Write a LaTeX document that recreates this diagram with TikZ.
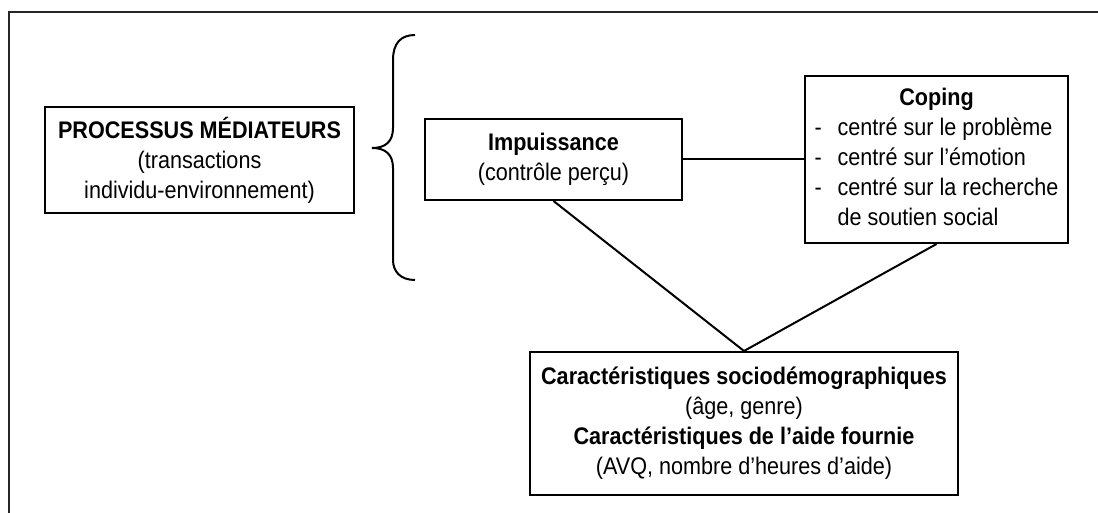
\documentclass[tikz,border=0pt]{standalone}
\usepackage{fontspec}
\setmainfont{Liberation Sans}[FakeStretch=0.9]
\usepackage{tikz}

\begin{document}
\begin{tikzpicture}[
    x=0.5pt, y=-0.5pt,
    font=\fontsize{12}{15}\selectfont,
    box/.style={draw, line width=1pt, inner sep=2pt, align=center},
    link/.style={line width=1pt}
]
\def\ymid{159.5}   % row of the three upper boxes
\useasboundingbox (0,0) rectangle (1098,513);

% outer frame (open at bottom and right)
\draw[line width=1.1pt, black!85] (9,513) -- (9,12) -- (1098,12);

% left box
\node[box, minimum width=154.5pt, minimum height=53pt] (med) at (199.5,160)
    {\textbf{PROCESSUS MÉDIATEURS}\\(transactions\\individu-environnement)};

% brace
\draw[line width=1pt]
    (415,35) .. controls (401,35) and (393,43) .. (393,60) -- (393,128)
    .. controls (393,142) and (385,148) .. (372,148)
    .. controls (385,148) and (393,154) .. (393,168) -- (393,260)
    .. controls (393,272) and (401,280) .. (415,280);

% upper boxes
\node[box, minimum width=128.5pt, minimum height=40.5pt] (imp) at (553.5,\ymid)
    {\textbf{Impuissance}\\(contrôle perçu)};
\node[box, minimum width=131.5pt, minimum height=83.5pt] (cop) at (936.5,\ymid)
    {\begin{tabular}{@{}l@{}}
     \multicolumn{1}{@{}c@{}}{\textbf{Coping}}\\
     \makebox[11.5pt][l]{-}centré sur le problème\\
     \makebox[11.5pt][l]{-}centré sur l’émotion\\
     \makebox[11.5pt][l]{-}centré sur la recherche\\
     \hspace*{11.5pt}de soutien social
     \end{tabular}};

% lower box
\node[box, minimum width=214pt, minimum height=71.5pt] (car) at (744,423.5)
    {\textbf{Caractéristiques sociodémographiques}\\(âge, genre)\\
     \textbf{Caractéristiques de l’aide fournie}\\(AVQ, nombre d’heures d’aide)};

% connectors
\draw[link] (imp.east) -- (cop.west);
\draw[link] (imp.south) -- (car.north);
\draw[link] (cop.south) -- (car.north);

\end{tikzpicture}
\end{document}
